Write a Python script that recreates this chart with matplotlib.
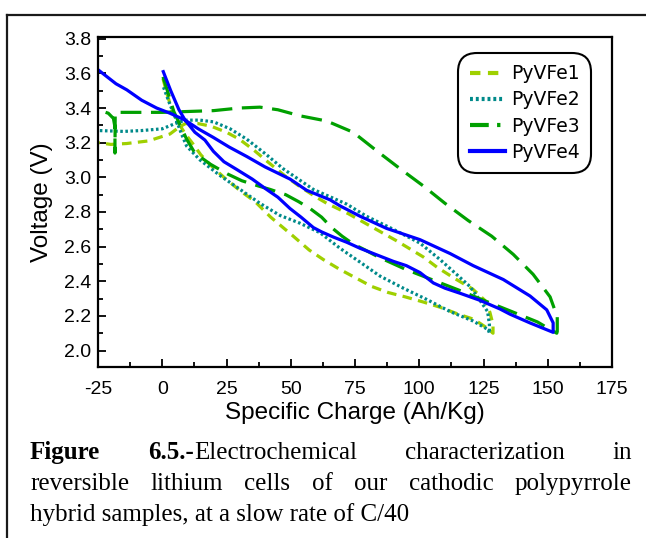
import matplotlib
matplotlib.use("Agg")
import matplotlib.pyplot as plt
from matplotlib.lines import Line2D
from matplotlib.ticker import MultipleLocator

# ---------------- data ----------------
fe1_x = [0.3, 1.5, 3.5, 6, 9, 12.1, 15, 18.8, 24, 30.5, 36.1, 42.2, 50.6, 57.2, 62.7, 68.9, 75.2, 81.5,
         87.9, 94.5, 101.6, 108.1, 115.2, 121.3, 126.9, 128.7,
         128.7, 127.5, 125.5, 120.8, 113.9, 107, 101.6, 91, 83.2, 72.4, 64, 59.4, 53.2, 47.6, 41, 35.4,
         30, 25, 19, 14, 9, 6.6, 3, -5.4, -13.9, -20, -24.9]
fe1_y = [3.57, 3.50, 3.40, 3.32, 3.25, 3.19, 3.13, 3.07, 3.00, 2.92, 2.86, 2.77, 2.665, 2.58, 2.525, 2.47, 2.42, 2.37,
         2.335, 2.31, 2.28, 2.25, 2.21, 2.18, 2.125, 2.10,
         2.15, 2.22, 2.29, 2.355, 2.415, 2.48, 2.54, 2.635, 2.70, 2.79, 2.85, 2.89, 2.95, 3.01, 3.09, 3.16,
         3.22, 3.26, 3.295, 3.31, 3.31, 3.29, 3.25, 3.21, 3.195, 3.19, 3.20]

fe2_x = [0.5, 3, 5.5, 7.5, 9.5, 14.7, 22.5, 30.3, 38, 45.8, 53.6, 61.4, 69.2, 77, 84.7, 93.8, 102.9, 112,
         121, 126.9, 127.3,
         127.3, 126.6, 123.6, 119.7, 114.5, 108.1, 100.3, 89.9, 79.5, 71.8, 58.8, 47, 40.6, 32.9, 26.4,
         20, 14.7, 8.9, 5, 0, -8, -15, -24.9]
fe2_y = [3.52, 3.42, 3.33, 3.25, 3.18, 3.10, 3.01, 2.93, 2.85, 2.78, 2.735, 2.68, 2.59, 2.51, 2.43, 2.36, 2.295, 2.225,
         2.17, 2.12, 2.10,
         2.15, 2.225, 2.29, 2.37, 2.44, 2.525, 2.62, 2.70, 2.775, 2.845, 2.93, 3.05, 3.13, 3.22, 3.28,
         3.32, 3.33, 3.33, 3.31, 3.28, 3.27, 3.265, 3.27]

fe3_x = [0.3, 2, 4.5, 7, 9.5, 12.7, 18.8, 25.3, 31, 37.4, 42, 48, 53, 57.5, 62, 65.9, 70, 74.3, 79, 84.1,
         94.5, 104.8, 115.2, 125.9, 136, 146, 150, 153.5,
         153.7, 153.7, 150.9, 144.3, 136.6, 128.2, 119.1, 110, 101.6, 92.5, 83.7, 74.3, 64, 53.6, 45, 38,
         30, 20, 10, 0, -10, -18.3, -18.4, -18.4, -19, -21, -25]
fe3_y = [3.58, 3.50, 3.38, 3.30, 3.22, 3.14, 3.075, 3.02, 2.98, 2.95, 2.93, 2.90, 2.86, 2.82, 2.77, 2.71, 2.66, 2.615, 2.58, 2.54,
         2.47, 2.41, 2.35, 2.285, 2.225, 2.165, 2.13, 2.10,
         2.11, 2.195, 2.31, 2.44, 2.555, 2.66, 2.75, 2.85, 2.95, 3.05, 3.15, 3.26, 3.325, 3.355, 3.39, 3.405,
         3.40, 3.385, 3.38, 3.375, 3.375, 3.375, 3.14, 3.29, 3.34, 3.37, 3.39]

fe4_x = [0.4, 3.3, 6.5, 8.9, 12.7, 16.6, 19.9, 24, 29, 35, 40.6, 45, 49.7, 54, 58.8, 62, 66.6, 71.8, 77, 83,
         89.9, 95, 100.3, 105.5, 110, 116, 123.6, 131.4, 135.3, 143, 152.1,
         152.1, 149.6, 143.1, 132.7, 121, 112, 100.3, 87.3, 77, 69.2, 65.3, 56.2, 49.7, 40, 32.9, 26,
         19.9, 14, 8.9, 3, -2.2, -8, -13.8, -18, -24.9]
fe4_y = [3.61, 3.50, 3.39, 3.33, 3.26, 3.215, 3.15, 3.09, 3.045, 2.99, 2.93, 2.885, 2.82, 2.77, 2.71, 2.685, 2.655, 2.625, 2.59, 2.555,
         2.515, 2.49, 2.45, 2.39, 2.36, 2.33, 2.29, 2.24, 2.21, 2.16, 2.105,
         2.16, 2.235, 2.315, 2.41, 2.49, 2.56, 2.64, 2.705, 2.775, 2.835, 2.87, 2.925, 2.99, 3.06, 3.12, 3.175,
         3.23, 3.28, 3.33, 3.37, 3.40, 3.445, 3.505, 3.54, 3.62]

labels = ["PyVFe1", "PyVFe2", "PyVFe3", "PyVFe4"]
x_ticks = [-25, 0, 25, 50, 75, 100, 125, 150, 175]
y_ticks = [2.0, 2.2, 2.4, 2.6, 2.8, 3.0, 3.2, 3.4, 3.6, 3.8]

colors = ["#9fd000", "#008a8a", "#00a000", "#0000ff"]

# ---------------- figure ----------------
W, H = 646, 538
fig = plt.figure(figsize=(W / 100, H / 100), dpi=100)
fig.patch.set_facecolor("white")

# outer frame
fig.add_artist(Line2D([7 / W, 1.0], [1 - 15 / H, 1 - 15 / H], transform=fig.transFigure,
                      color="#1a1a1a", lw=1.6))
fig.add_artist(Line2D([7 / W, 7 / W], [1 - 15 / H, 0], transform=fig.transFigure,
                      color="#1a1a1a", lw=1.6))

ax = fig.add_axes([98 / W, 1 - 367 / H, (612 - 98) / W, (367 - 37) / H])

series = [(fe1_x, fe1_y), (fe2_x, fe2_y), (fe3_x, fe3_y), (fe4_x, fe4_y)]
styles = [(0, (3.0, 2.0)), (0, (0.8, 0.8)), (0, (6.5, 3.0)), "-"]
lw = 2.3
for (xs, ys), c, ls in zip(series, colors, styles):
    ax.plot(xs, ys, color=c, lw=lw, linestyle=ls, solid_joinstyle="round", dash_capstyle="butt")

ax.set_xlim(-25, 175)
ax.set_ylim(1.905, 3.81)
ax.set_xticks(x_ticks)
ax.set_xticklabels([str(t) for t in x_ticks])
ax.set_yticks(y_ticks)
ax.set_yticklabels([f"{t:.1f}" for t in y_ticks])
ax.xaxis.set_minor_locator(MultipleLocator(12.5))
ax.yaxis.set_minor_locator(MultipleLocator(0.1))
ax.tick_params(which="both", direction="in", top=False, right=False, width=1.3, colors="black")
ax.tick_params(which="major", length=6, labelsize=14)
ax.tick_params(axis="x", which="major", pad=10)
ax.tick_params(axis="y", which="major", pad=5)
ax.tick_params(which="minor", length=3.5)
for lab in ax.get_xticklabels() + ax.get_yticklabels():
    lab.set_fontfamily("Liberation Sans")
for sp in ax.spines.values():
    sp.set_linewidth(1.6)

ax.set_xlabel("Specific Charge (Ah/Kg)", fontfamily="Liberation Sans", fontsize=17.5, labelpad=3)
ax.set_ylabel("Voltage (V)", fontfamily="Liberation Sans", fontsize=17.5, labelpad=8)

# legend
handles = [
    Line2D([], [], color=colors[0], lw=3, linestyle=(0, (2.5, 1.8))),
    Line2D([], [], color=colors[1], lw=3, linestyle=(0, (0.7, 0.7))),
    Line2D([], [], color=colors[2], lw=3, linestyle=(0, (4.5, 2.0, 0.8, 2.0))),
    Line2D([], [], color=colors[3], lw=3, linestyle="-"),
]
leg = ax.legend(handles, labels, loc="upper right", bbox_to_anchor=(0.959, 0.9515),
                prop={"family": "DejaVu Sans", "size": 13.5}, handlelength=1.9, handletextpad=0.3,
                labelspacing=0.38, borderpad=0.6, fancybox=True, framealpha=1,
                edgecolor="black", borderaxespad=0)
leg.get_frame().set_linewidth(1.5)
leg.get_frame().set_boxstyle("round", pad=0, rounding_size=1.0)

# ---------------- caption (justified) ----------------
cap_fs = 18
x_left, x_right = 30, 632
fig.canvas.draw()
renderer = fig.canvas.get_renderer()


def place_runs(runs, x_px, y_px):
    """runs: list of (text, weight). returns list of Text artists and total width."""
    arts = []
    x = x_px
    for txt, wt in runs:
        t = fig.text(x / W, 1 - y_px / H, txt, fontfamily="Liberation Serif", fontsize=cap_fs,
                     fontweight=wt, va="baseline", ha="left")
        bb = t.get_window_extent(renderer)
        arts.append(t)
        x += bb.width
    return arts, x - x_px


def justify(words, y_px):
    widths = []
    tmp = []
    for w in words:
        arts, wd = place_runs(w, 0, y_px)
        widths.append(wd)
        tmp.extend(arts)
    for a in tmp:
        a.remove()
    gap = (x_right - x_left - sum(widths)) / (len(words) - 1)
    x = x_left
    for w, wd in zip(words, widths):
        place_runs(w, x, y_px)
        x += wd + gap


line1 = [[("Figure", "bold")], [("6.5.-", "bold"), ("Electrochemical", "normal")],
         [("characterization", "normal")], [("in", "normal")]]
line2 = [[(w, "normal")] for w in "reversible lithium cells of our cathodic polypyrrole".split()]
justify(line1, 459)
justify(line2, 490)
fig.text(x_left / W, 1 - 521 / H, "hybrid samples, at a slow rate of C/40", fontfamily="Liberation Serif",
         fontsize=cap_fs, va="baseline", ha="left")

fig.savefig("out.png", dpi=100, facecolor="white")
